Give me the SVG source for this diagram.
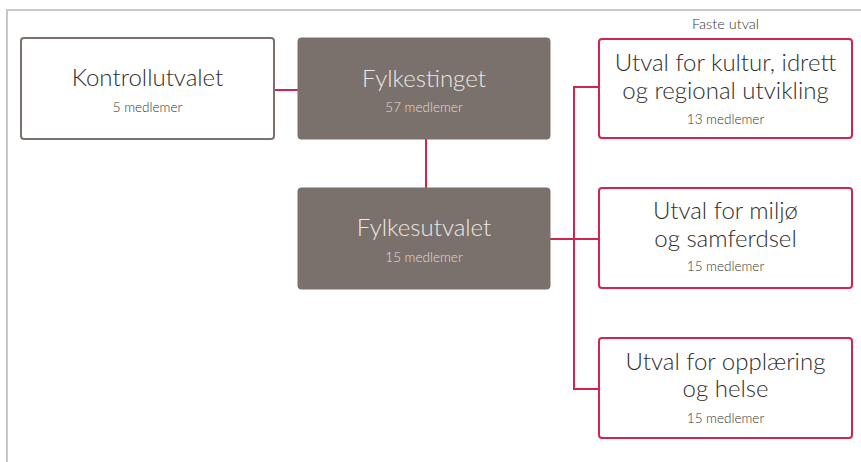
<svg xmlns="http://www.w3.org/2000/svg" width="861" height="462" viewBox="0 0 861 462">
<style>
.t{font-family:Lato,"Open Sans","Liberation Sans",sans-serif;text-anchor:middle}
.big{font-size:24px;font-weight:300;fill:#2e2e2e}
.sm{font-size:13.5px;font-weight:300;fill:#333}
.dark rect{fill:#7a716c;stroke:#7a716c;stroke-width:1}
.dark .big{fill:#ece8e4}
.dark .sm{fill:#e2ddd8}
.plain rect{fill:#fff;stroke:#7a716c;stroke-width:2}
.red rect{fill:#fff;stroke:#d4234d;stroke-width:2}
.conn{stroke:#d4234d;stroke-width:2;fill:none}
</style>
<rect width="861" height="462" fill="#fff"/>
<path d="M7,462 V10 H861" fill="none" stroke="#c8c8c8" stroke-width="2"/>
<g id="connectors">
<path class="conn" d="M274,90 H298"/>
<path class="conn" d="M426,139 V188"/>
<path class="conn" d="M550,239 H599"/>
<path class="conn" d="M599,87 H574 V389 H599"/>
</g>
<text class="t sm" x="725.5" y="29" style="font-size:14.5px">Faste utval</text>
<g id="kontrollutvalet" class="plain">
<rect x="21" y="38" width="253" height="101" rx="3"/>
<text class="t big" x="147.5" y="86">Kontrollutvalet</text>
<text class="t sm" x="147.5" y="112">5 medlemer</text>
</g>
<g id="fylkestinget" class="dark">
<rect x="298" y="38" width="252" height="101" rx="3"/>
<text class="t big" x="424" y="87">Fylkestinget</text>
<text class="t sm" x="424" y="112">57 medlemer</text>
</g>
<g id="fylkesutvalet" class="dark">
<rect x="298" y="188" width="252" height="101" rx="3"/>
<text class="t big" x="424" y="236">Fylkesutvalet</text>
<text class="t sm" x="424" y="262">15 medlemer</text>
</g>
<g id="utval1" class="red">
<rect x="599" y="39" width="253" height="99" rx="3"/>
<text class="t big" x="725.5" y="71">Utval for kultur, idrett</text>
<text class="t big" x="725.5" y="99">og regional utvikling</text>
<text class="t sm" x="725.5" y="124">13 medlemer</text>
</g>
<g id="utval2" class="red">
<rect x="599" y="188" width="253" height="100" rx="3"/>
<text class="t big" x="725.5" y="219">Utval for miljø</text>
<text class="t big" x="725.5" y="247">og samferdsel</text>
<text class="t sm" x="725.5" y="271">15 medlemer</text>
</g>
<g id="utval3" class="red">
<rect x="599" y="338" width="253" height="100" rx="3"/>
<text class="t big" x="725.5" y="370">Utval for opplæring</text>
<text class="t big" x="725.5" y="397">og helse</text>
<text class="t sm" x="725.5" y="423">15 medlemer</text>
</g>
</svg>
